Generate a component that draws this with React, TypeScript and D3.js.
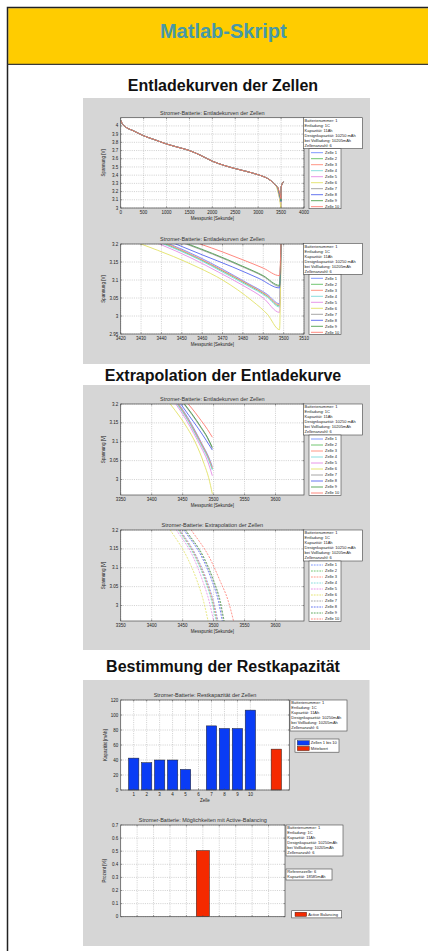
import React from 'react';
import * as d3 from 'd3';

const FONT = '"Liberation Sans", Arial, Helvetica, sans-serif';

// ---------------- data ----------------
const cellNames = ['Zelle 1', 'Zelle 2', 'Zelle 3', 'Zelle 4', 'Zelle 5', 'Zelle 6', 'Zelle 7', 'Zelle 8', 'Zelle 9', 'Zelle 10'];
const cellColors = ['#6f8cff', '#62c062', '#ff8a76', '#7ddada', '#e58be5', '#e2e266', '#9c9c9c', '#5566ee', '#4f9f4f', '#ff7a70'];

const infoLinesCurves = ['Batterienummer: 1', 'Entladung: 1C', 'Kapazität: 11Ah', 'Designkapazität: 10250 mAh', 'bei Vollladung: 10205mAh', 'Zellenanzahl: 6'];
const infoLinesBars = ['Batterienummer: 1', 'Entladung: 1C', 'Kapazität: 11Ah', 'Designkapazität: 10250mAh', 'bei Vollladung: 10205mAh', 'Zellenanzahl: 6'];
const referenceLines = ['Referenzzelle: 6', 'Kapazität: 18585mAh'];

// shared part of the discharge curve (all cells overlap here)
const overviewTime = [0, 30, 100, 280, 500, 750, 1000, 1250, 1500, 1750, 2000, 2250, 2500, 2750, 3000, 3150, 3260, 3340, 3390];
const overviewVolt = [4.07, 4.03, 3.99, 3.94, 3.88, 3.83, 3.78, 3.74, 3.70, 3.64, 3.57, 3.52, 3.48, 3.445, 3.405, 3.375, 3.34, 3.30, 3.27];

// end of discharge, per cell (seconds / volts)
const endTime = [
  [3425, 3444, 3458, 3470, 3482, 3492, 3498],
  [3425, 3442, 3458, 3470, 3482, 3492, 3498],
  [3425, 3443, 3458, 3470, 3482, 3492, 3498],
  [3425, 3441, 3458, 3470, 3482, 3492, 3498],
  [3420, 3439, 3455, 3468, 3480, 3490, 3498],
  [3420, 3430, 3446, 3458, 3470, 3485, 3492, 3498],
  [3425, 3452, 3465, 3480, 3490, 3498],
  [3425, 3447, 3460, 3475, 3488, 3498],
  [3425, 3453, 3465, 3480, 3490, 3498],
  [3425, 3459, 3470, 3480, 3490, 3498],
];
const endVolt = [
  [3.24, 3.2, 3.165, 3.13, 3.092, 3.06, 3.034],
  [3.238, 3.2, 3.16, 3.125, 3.088, 3.055, 3.028],
  [3.239, 3.2, 3.162, 3.127, 3.09, 3.057, 3.031],
  [3.236, 3.2, 3.158, 3.122, 3.085, 3.052, 3.025],
  [3.24, 3.2, 3.16, 3.122, 3.085, 3.05, 3.01],
  [3.222, 3.2, 3.165, 3.135, 3.1, 3.04, 3.005, 2.962],
  [3.255, 3.2, 3.172, 3.136, 3.11, 3.082],
  [3.25, 3.2, 3.17, 3.136, 3.104, 3.078],
  [3.255, 3.2, 3.174, 3.138, 3.112, 3.085],
  [3.255, 3.2, 3.178, 3.156, 3.133, 3.112],
];

// voltage recovery after the cut-off
const recoveryTime = [3499, 3505, 3520, 3550];
const recoveryVolt = [3.22, 3.26, 3.29, 3.32];

// extrapolation: time at which each cell reaches these voltage levels
const extraLevels = [3.215, 3.2, 3.125, 3.067, 3.01, 2.96, 2.945];
const extraTime = [
  [3440, 3446, 3474, 3489, 3500, 3507, 3509],
  [3438, 3444, 3472, 3487, 3498, 3505, 3507],
  [3439, 3445, 3473, 3488, 3499, 3506, 3508],
  [3437, 3443, 3471, 3486, 3497, 3504, 3506],
  [3434, 3440, 3468, 3482, 3493, 3500, 3502],
  [3424, 3430, 3458, 3473, 3484, 3491, 3493],
  [3448, 3454, 3484, 3499, 3510, 3516, 3518],
  [3446, 3452, 3482, 3497, 3508, 3514, 3516],
  [3449, 3455, 3485, 3500, 3511, 3517, 3519],
  [3458, 3464, 3494, 3510, 3524, 3532, 3534],
];

// tick values
const overviewXTicks = [0, 500, 1000, 1500, 2000, 2500, 3000, 3500, 4000];
const overviewYTicks = [3, 3.1, 3.2, 3.3, 3.4, 3.5, 3.6, 3.7, 3.8, 3.9, 4];
const zoomXTicks = [3420, 3430, 3440, 3450, 3460, 3470, 3480, 3490, 3500, 3510];
const zoomYTicks = [2.95, 3, 3.05, 3.1, 3.15, 3.2];
const extraXTicks = [3350, 3400, 3450, 3500, 3550, 3600];
const extraYTicks = [3, 3.05, 3.1, 3.15, 3.2];

// residual capacity
const barCells = [1, 2, 3, 4, 5, 6, 7, 8, 9, 10];
const restCapacity = [42.5, 36.5, 40, 40, 27.5, 0, 85.5, 82, 82, 106.5];
const meanPosition = [12];
const meanCapacity = [54.5];
const barYTicks = [0, 20, 40, 60, 80, 100, 120];
const barLegend = ['Zellen 1 bis 10', 'Mittelwert'];

// active balancing
const balancingPosition = [5];
const balancingPercent = [0.505];
const balancingYTicks = [0, 0.1, 0.2, 0.3, 0.4, 0.5, 0.6, 0.7];
const balancingGridX = [1, 2, 3, 4, 5, 6, 7, 8, 9];
const balancingLegend = ['Active Balancing'];

// ---------------- helpers ----------------
type Pt = [number, number];
const zip = (t: number[], v: number[]): Pt[] => t.map((d, i) => [d, v[i]] as Pt);
const fmt = (v: number) => String(Math.round(v * 1000) / 1000);

const GRID = { stroke: '#a8a8a8', strokeWidth: 0.5, strokeDasharray: '1.1,1.1' };
const FRAME = '#4a4a4a';
const TXT = '#222';

function AxesFrame(props: {
  left: number; right: number; top: number; bottom: number;
  x: d3.ScaleLinear<number, number>; y: d3.ScaleLinear<number, number>;
  xTicks: number[]; yTicks: number[]; showXLabels?: boolean; xLabelFn?: (v: number) => string;
}) {
  const { left, right, top, bottom, x, y, xTicks, yTicks } = props;
  const show = props.showXLabels !== false;
  const lf = props.xLabelFn || fmt;
  return (
    <g>
      {xTicks.map((t) => (
        <g key={'xt' + t}>
          <line x1={x(t)} x2={x(t)} y1={bottom} y2={bottom - 1.6} stroke={FRAME} strokeWidth={0.5} />
          <line x1={x(t)} x2={x(t)} y1={top} y2={top + 1.6} stroke={FRAME} strokeWidth={0.5} />
          {show && (
            <text x={x(t)} y={bottom + 5.6} fontSize={4.5} textAnchor="middle" fill={TXT}>{lf(t)}</text>
          )}
        </g>
      ))}
      {yTicks.map((t) => (
        <g key={'yt' + t}>
          <line x1={left} x2={left + 1.6} y1={y(t)} y2={y(t)} stroke={FRAME} strokeWidth={0.5} />
          <line x1={right} x2={right - 1.6} y1={y(t)} y2={y(t)} stroke={FRAME} strokeWidth={0.5} />
          <text x={left - 2.5} y={y(t)} dy="0.35em" fontSize={4.5} textAnchor="end" fill={TXT}>{fmt(t)}</text>
        </g>
      ))}
      <rect x={left} y={top} width={right - left} height={bottom - top} fill="none" stroke={FRAME} strokeWidth={0.7} />
    </g>
  );
}

function InfoBox(props: { x: number; y: number; w: number; lines: string[] }) {
  const { x, y, w, lines } = props;
  const h = lines.length * 5 + 1;
  return (
    <g>
      <rect x={x} y={y} width={w} height={h} fill="#fff" stroke="#444" strokeWidth={0.6} />
      {lines.map((l, i) => (
        <text key={i} x={x + 1.3} y={y + 4.4 + i * 5} fontSize={4} fill={TXT}>{l}</text>
      ))}
    </g>
  );
}

function LineLegend(props: { x: number; y: number; w: number; h: number; dashed?: boolean }) {
  const { x, y, w, h, dashed } = props;
  return (
    <g>
      <rect x={x} y={y} width={w} height={h} fill="#fff" stroke="#444" strokeWidth={0.6} />
      {cellNames.map((n, i) => {
        const cy = y + 4 + i * 6;
        return (
          <g key={n}>
            <line x1={x + 2} x2={x + 14} y1={cy} y2={cy} stroke={cellColors[i]} strokeWidth={0.9}
              strokeDasharray={dashed ? '1.8,1' : undefined} />
            <text x={x + 16} y={cy} dy="0.35em" fontSize={4} fill={TXT}>{n}</text>
          </g>
        );
      })}
    </g>
  );
}

type Series = { pts: Pt[]; color: string; dashed?: boolean };

function LinePlot(props: {
  id: string; left: number; right: number; top: number; bottom: number;
  xDomain: [number, number]; yDomain: [number, number];
  xTicks: number[]; yTicks: number[];
  title: string; xLabel: string; yLabel: string; series: Series[];
}) {
  const { id, left, right, top, bottom } = props;
  const x = d3.scaleLinear().domain(props.xDomain).range([left, right]);
  const y = d3.scaleLinear().domain(props.yDomain).range([bottom, top]);
  const line = d3.line<Pt>().x((d) => x(d[0])).y((d) => y(d[1])).curve(d3.curveMonotoneX);
  const cx = (left + right) / 2;
  const cy = (top + bottom) / 2;
  return (
    <g>
      <defs>
        <clipPath id={id}>
          <rect x={left} y={top} width={right - left} height={bottom - top} />
        </clipPath>
      </defs>
      <rect x={left} y={top} width={right - left} height={bottom - top} fill="#fff" />
      {props.xTicks.map((t) => (
        <line key={'gx' + t} x1={x(t)} x2={x(t)} y1={top} y2={bottom} {...GRID} />
      ))}
      {props.yTicks.map((t) => (
        <line key={'gy' + t} x1={left} x2={right} y1={y(t)} y2={y(t)} {...GRID} />
      ))}
      <g clipPath={`url(#${id})`}>
        {props.series.map((s, i) => (
          <path key={i} d={line(s.pts) || ''} fill="none" stroke={s.color} strokeWidth={s.dashed ? 0.8 : 0.9}
            strokeDasharray={s.dashed ? '2,1.2' : undefined} />
        ))}
      </g>
      <AxesFrame left={left} right={right} top={top} bottom={bottom} x={x} y={y} xTicks={props.xTicks} yTicks={props.yTicks} />
      <text x={cx} y={top - 2.8} fontSize={5.5} textAnchor="middle" fill="#333">{props.title}</text>
      <text x={cx} y={bottom + 11.8} fontSize={4.5} textAnchor="middle" fill={TXT}>{props.xLabel}</text>
      <text transform={`translate(${104.8},${cy}) rotate(-90)`} fontSize={4.5} textAnchor="middle" fill={TXT}>{props.yLabel}</text>
    </g>
  );
}

function BarPlot() {
  const left = 120.7, right = 289.3, top = 700, bottom = 790;
  const x = d3.scaleLinear().domain([0, 13]).range([left, right]);
  const y = d3.scaleLinear().domain([0, 120]).range([bottom, top]);
  const bw = x(0.8) - x(0);
  return (
    <g>
      <rect x={left} y={top} width={right - left} height={bottom - top} fill="#fff" />
      {barCells.map((t) => (
        <line key={'gx' + t} x1={x(t)} x2={x(t)} y1={top} y2={bottom} {...GRID} />
      ))}
      {barYTicks.map((t) => (
        <line key={'gy' + t} x1={left} x2={right} y1={y(t)} y2={y(t)} {...GRID} />
      ))}
      {barCells.map((c, i) => (
        <rect key={c} x={x(c) - bw / 2} y={y(restCapacity[i])} width={bw} height={y(0) - y(restCapacity[i])}
          fill="#0a3cf5" stroke="#222" strokeWidth={0.5} />
      ))}
      {meanPosition.map((p, i) => (
        <rect key={'m' + i} x={x(p) - bw / 2} y={y(meanCapacity[i])} width={bw} height={y(0) - y(meanCapacity[i])}
          fill="#f52a00" stroke="#222" strokeWidth={0.5} />
      ))}
      <AxesFrame left={left} right={right} top={top} bottom={bottom} x={x} y={y} xTicks={barCells} yTicks={barYTicks} />
      <text x={(left + right) / 2} y={top - 3} fontSize={5.5} textAnchor="middle" fill="#333">Stromer-Batterie: Restkapazität der Zellen</text>
      <text x={(left + right) / 2} y={bottom + 12.2} fontSize={4.5} textAnchor="middle" fill={TXT}>Zelle</text>
      <text transform={`translate(${107},${(top + bottom) / 2}) rotate(-90)`} fontSize={4.5} textAnchor="middle" fill={TXT}>Kapazität [mAh]</text>
      <InfoBox x={290} y={700} w={57} lines={infoLinesBars} />
      <g>
        <rect x={295} y={739} width={44} height={13.2} fill="#fff" stroke="#444" strokeWidth={0.6} />
        <rect x={297.3} y={740.7} width={12} height={4.4} fill="#0a3cf5" stroke="#222" strokeWidth={0.4} />
        <text x={310.8} y={742.9} dy="0.35em" fontSize={4} fill={TXT}>{barLegend[0]}</text>
        <rect x={297.3} y={746.3} width={12} height={4.4} fill="#f52a00" stroke="#222" strokeWidth={0.4} />
        <text x={310.8} y={748.5} dy="0.35em" fontSize={4} fill={TXT}>{barLegend[1]}</text>
      </g>
    </g>
  );
}

function BalancingPlot() {
  const left = 120.7, right = 285, top = 825, bottom = 916.7;
  const x = d3.scaleLinear().domain([0, 10]).range([left, right]);
  const y = d3.scaleLinear().domain([0, 0.7]).range([bottom, top]);
  const bw = x(0.8) - x(0);
  return (
    <g>
      <rect x={left} y={top} width={right - left} height={bottom - top} fill="#fff" />
      {balancingGridX.map((t) => (
        <line key={'gx' + t} x1={x(t)} x2={x(t)} y1={top} y2={bottom} {...GRID} />
      ))}
      {balancingYTicks.map((t) => (
        <line key={'gy' + t} x1={left} x2={right} y1={y(t)} y2={y(t)} {...GRID} />
      ))}
      {balancingPosition.map((p, i) => (
        <rect key={p} x={x(p) - bw / 2} y={y(balancingPercent[i])} width={bw} height={y(0) - y(balancingPercent[i])}
          fill="#f52a00" stroke="#222" strokeWidth={0.5} />
      ))}
      <AxesFrame left={left} right={right} top={top} bottom={bottom} x={x} y={y} xTicks={balancingGridX} yTicks={balancingYTicks} showXLabels={false} />
      <text x={(left + right) / 2} y={top - 2.8} fontSize={5.5} textAnchor="middle" fill="#333">Stromer-Batterie: Möglichkeiten mit Active-Balancing</text>
      <text transform={`translate(${105.5},${(top + bottom) / 2}) rotate(-90)`} fontSize={4.5} textAnchor="middle" fill={TXT}>Prozent [%]</text>
      <InfoBox x={286} y={825} w={57} lines={infoLinesBars} />
      <InfoBox x={286} y={869} w={46} lines={referenceLines} />
      <g>
        <rect x={291.7} y={910.7} width={50} height={7.2} fill="#fff" stroke="#444" strokeWidth={0.6} />
        <rect x={295} y={912.2} width={11.7} height={4.3} fill="#f52a00" stroke="#222" strokeWidth={0.4} />
        <text x={308.3} y={914.3} dy="0.35em" fontSize={4} fill={TXT}>{balancingLegend[0]}</text>
      </g>
    </g>
  );
}

export default function App() {
  const W = 428, H = 951;
  const overview: Series[] = cellNames.map((_, i) => ({
    pts: [...zip(overviewTime, overviewVolt), ...zip(endTime[i], endVolt[i]), ...zip(recoveryTime, recoveryVolt)],
    color: cellColors[i],
  }));
  const zoomed: Series[] = cellNames.map((_, i) => ({
    pts: [...zip(endTime[i], endVolt[i]), ...zip(recoveryTime, recoveryVolt)],
    color: cellColors[i],
  }));
  const measured: Series[] = cellNames.map((_, i) => ({
    pts: zip(endTime[i], endVolt[i]),
    color: cellColors[i],
  }));
  const extrapolated: Series[] = cellNames.map((_, i) => ({
    pts: zip(extraTime[i], extraLevels),
    color: cellColors[i],
    dashed: true,
  }));

  const sectionTitle = (txt: string, yy: number) => (
    <text x={223} y={yy} textAnchor="middle" fontSize={16} fontWeight="bold" fill="#111">{txt}</text>
  );

  return (
    <svg width={W} height={H} style={{ position: 'absolute', left: 0, top: 0 }} fontFamily={FONT}>
      <rect width={W} height={H} fill="#fff" />
      <rect x={8.25} y={8.25} width={430} height={56} fill="#ffcc00" />
      <rect x={7.5} y={7.5} width={440} height={960} fill="none" stroke="#222" strokeWidth={1.5} />
      <line x1={7.5} x2={440} y1={64.4} y2={64.4} stroke="#3a3a3a" strokeWidth={1.2} />
      <text x={223.3} y={37.7} textAnchor="middle" fontSize={20} fontWeight="bold" fill="#4798a8">Matlab-Skript</text>

      {sectionTitle('Entladekurven der Zellen', 90.7)}
      <rect x={83} y={98} width={287} height={266} fill="#d6d6d6" />
      <LinePlot id="c1" left={120.7} right={304} top={117.7} bottom={208}
        xDomain={[0, 4000]} yDomain={[3, 4.1]} xTicks={overviewXTicks} yTicks={overviewYTicks}
        title="Stromer-Batterie: Entladekurven der Zellen" xLabel="Messpunkt [Sekunde]" yLabel="Spannung [V]" series={overview} />
      <InfoBox x={303.3} y={117.7} w={59} lines={infoLinesCurves} />
      <LineLegend x={309} y={148.7} w={32} h={60} />

      <LinePlot id="c2" left={120.7} right={304} top={244} bottom={334}
        xDomain={[3420, 3510]} yDomain={[2.95, 3.2]} xTicks={zoomXTicks} yTicks={zoomYTicks}
        title="Stromer-Batterie: Entladekurven der Zellen" xLabel="Messpunkt [Sekunde]" yLabel="Spannung [V]" series={zoomed} />
      <InfoBox x={303.3} y={243.3} w={59} lines={infoLinesCurves} />
      <LineLegend x={309} y={274.3} w={32} h={60} />

      {sectionTitle('Extrapolation der Entladekurve', 380.7)}
      <rect x={83} y={385} width={287} height={265} fill="#d6d6d6" />
      <LinePlot id="c3" left={120.7} right={304} top={404} bottom={495}
        xDomain={[3350, 3646]} yDomain={[2.959, 3.2]} xTicks={extraXTicks} yTicks={extraYTicks}
        title="Stromer-Batterie: Entladekurven der Zellen" xLabel="Messpunkt [Sekunde]" yLabel="Spannung [V]" series={measured} />
      <InfoBox x={303.3} y={404} w={59} lines={infoLinesCurves} />
      <LineLegend x={309} y={435} w={32} h={60.5} />

      <LinePlot id="c4" left={120.7} right={304} top={530} bottom={621}
        xDomain={[3350, 3646]} yDomain={[2.959, 3.2]} xTicks={extraXTicks} yTicks={extraYTicks}
        title="Stromer-Batterie: Extrapolation der Zellen" xLabel="Messpunkt [Sekunde]" yLabel="Spannung [V]" series={extrapolated} />
      <InfoBox x={303.3} y={530} w={59} lines={infoLinesCurves} />
      <LineLegend x={309} y={561} w={32} h={60.5} dashed />

      {sectionTitle('Bestimmung der Restkapazität', 671.7)}
      <rect x={83} y={680} width={286.5} height={266} fill="#d6d6d6" />
      <BarPlot />
      <BalancingPlot />
    </svg>
  );
}
